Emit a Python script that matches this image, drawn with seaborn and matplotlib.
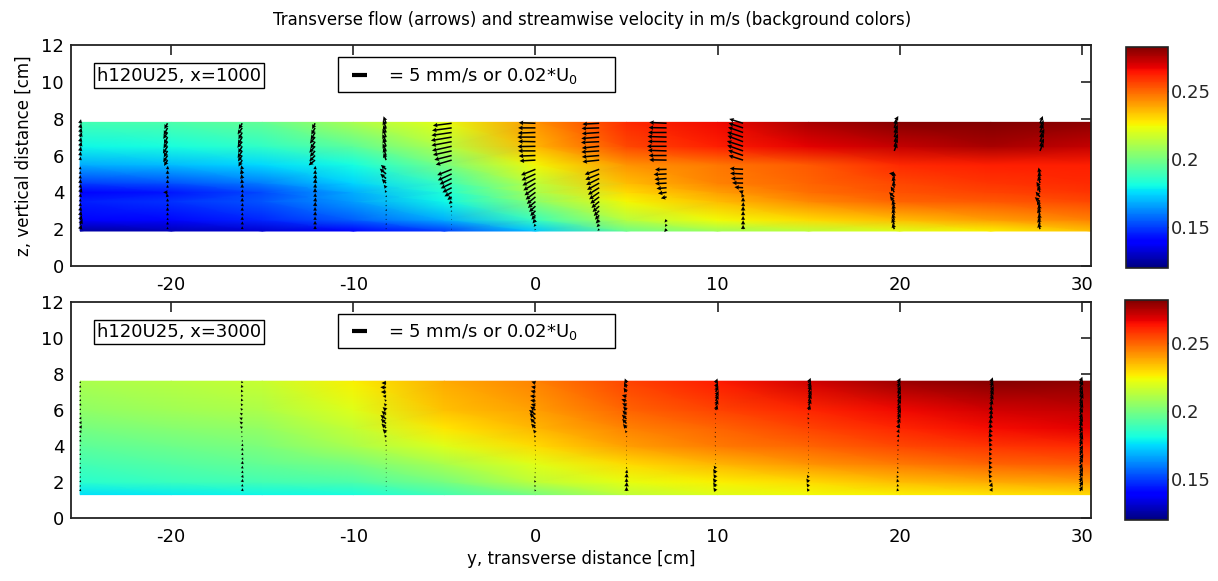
import numpy as np
import seaborn as sns
import matplotlib.pyplot as plt

n = np.nan

# ---------------- background: streamwise velocity (m/s) ----------------
field_y = [-25.0, -20.0, -15.0, -10.0, -5.0, 0.0, 5.0, 10.0, 15.0, 20.0, 25.0, 30.5]

top_field_z = [1.9, 2.5, 3.5, 4.0, 4.5, 5.5, 6.5, 7.8]
top_field_u = [
    # y=-25  -20    -15    -10    -5     0      5      10     15     20     25     30.5
    [0.125, 0.128, 0.132, 0.140, 0.150, 0.172, 0.198, 0.208, 0.214, 0.220, 0.226, 0.234],  # z=1.9
    [0.138, 0.141, 0.146, 0.155, 0.168, 0.188, 0.213, 0.224, 0.230, 0.235, 0.240, 0.245],  # z=2.5
    [0.145, 0.148, 0.154, 0.165, 0.180, 0.204, 0.225, 0.235, 0.244, 0.250, 0.252, 0.255],  # z=3.5
    [0.140, 0.144, 0.152, 0.168, 0.183, 0.210, 0.230, 0.240, 0.248, 0.253, 0.256, 0.258],  # z=4.0
    [0.150, 0.153, 0.160, 0.174, 0.188, 0.214, 0.235, 0.245, 0.250, 0.255, 0.258, 0.260],  # z=4.5
    [0.168, 0.170, 0.175, 0.181, 0.200, 0.225, 0.242, 0.247, 0.252, 0.260, 0.262, 0.262],  # z=5.5
    [0.180, 0.182, 0.186, 0.195, 0.212, 0.236, 0.255, 0.262, 0.268, 0.272, 0.276, 0.272],  # z=6.5
    [0.190, 0.192, 0.196, 0.210, 0.222, 0.242, 0.260, 0.266, 0.276, 0.281, 0.283, 0.280],  # z=7.8
]

bot_field_z = [1.3, 2.0, 3.0, 4.0, 5.0, 6.0, 7.6]
bot_field_u = [
    [0.176, 0.178, 0.180, 0.182, 0.190, 0.200, 0.214, 0.220, 0.224, 0.226, 0.228, 0.230],  # z=1.3
    [0.185, 0.188, 0.190, 0.192, 0.200, 0.214, 0.222, 0.226, 0.230, 0.235, 0.238, 0.240],  # z=2.0
    [0.190, 0.193, 0.196, 0.200, 0.210, 0.221, 0.230, 0.236, 0.242, 0.246, 0.250, 0.252],  # z=3.0
    [0.195, 0.198, 0.201, 0.210, 0.220, 0.230, 0.240, 0.246, 0.250, 0.255, 0.258, 0.260],  # z=4.0
    [0.200, 0.203, 0.206, 0.215, 0.228, 0.236, 0.245, 0.250, 0.256, 0.261, 0.265, 0.268],  # z=5.0
    [0.205, 0.208, 0.211, 0.220, 0.234, 0.240, 0.250, 0.256, 0.261, 0.266, 0.270, 0.272],  # z=6.0
    [0.210, 0.213, 0.216, 0.226, 0.238, 0.245, 0.256, 0.263, 0.270, 0.278, 0.281, 0.280],  # z=7.6
]

# ---------------- arrows: transverse flow (mm/s) ----------------
top_arrow_z = [2.0, 2.25, 2.5, 2.75, 3.0, 3.25, 3.5, 3.75, 4.0, 4.25, 4.5, 4.75,
               5.0, 5.25, 5.5, 5.75, 6.0, 6.25, 6.5, 6.75, 7.0, 7.25, 7.5, 7.75]
top_cols = [-25.0, -20.2, -16.1, -12.1, -8.2, -4.6, 0.0, 3.5, 7.2, 11.4, 19.7, 27.7]
top_v = [
    [0.5, 0.8, 0.6, 0.4, 0.3, 0.2, 0.2, 0.3, 0.6, 0.3, 0.2, 0.1, 0.1, 0.1, n, 0.2, 0.2, 0.3, 0.5, 0.4, 0.6, 0.5, 0.4, 0.3],
    [0, 0, 0.1, 0, 0, 0.1, 0, -0.3, -1.5, 0, 0, 0.1, 0, 0.1, n, -1.2, -1.5, -1.3, -1.6, -1.4, -1.2, -1.5, -1.3, -1.1],
    [0, 0.1, 0, 0.1, 0, 0.2, 0, 0.1, 0.2, 0, -0.2, -0.3, -0.4, -0.3, n, -1.3, -1.5, -1.6, -1.4, -1.7, -1.5, -1.3, -1.6, -1.2],
    [0, 0, 0, 0.1, 0, 0.1, 0.2, 0.1, 0, 0.1, 0.2, 0.2, 0.1, 0.1, n, -2.2, -2.0, -1.8, -2.0, -1.6, -1.8, -1.5, -1.3, -1.0],
    [0, 0.1, 0, 0, 0.1, 0, 0, 0.1, -0.4, -0.8, -1.5, -2.0, -2.2, -1.8, n, -0.9, -1.0, -1.2, -1.1, -1.3, -1.2, -1.0, -1.1, -0.9],
    [0, 0, 0, 0, -0.3, -0.5, -1.0, -1.5, -2.5, -3.2, -3.8, -4.2, -4.8, -5.0, n, -5.5, -6.0, -6.5, -6.8, -7.0, -7.2, -7.0, -6.8, -6.5],
    [-0.3, -0.6, -1.0, -1.4, -1.8, -2.2, -2.6, -3.0, -3.4, -3.8, -4.2, -4.5, -4.8, -5.0, n, -5.5, -5.8, -6.0, -6.2, -6.0, -6.3, -6.1, -6.0, -5.8],
    [-0.6, -0.9, -1.2, -1.5, -1.9, -2.3, -2.7, -3.1, -3.5, -3.9, -4.2, -4.5, -4.8, -5.0, n, -5.8, -6.0, -6.2, -6.0, -6.3, -6.2, -6.0, -6.1, -5.8],
    [-0.8, -0.6, -0.7, n, n, n, n, -2.0, -3.0, -3.5, -4.0, -4.2, -4.5, -4.0, n, -6.0, -6.2, -6.5, -6.8, -6.5, -6.6, -6.4, -6.2, -6.0],
    [0, 0, 0, 0, 0, 0.1, 0, -0.5, -1.5, -3.0, -3.8, -4.2, -4.5, -4.6, n, -5.0, -5.2, -5.5, -5.6, -5.4, -5.5, -5.2, -5.0, -4.8],
    [-0.6, -0.8, -0.7, -0.6, -0.5, -0.7, -1.5, -1.8, -1.2, -0.4, -0.5, -0.3, -1.8, n, n, n, n, 1.0, 1.2, 1.3, 1.1, 1.2, 1.0, 1.4],
    [-0.5, -0.6, -0.4, -0.7, -0.5, -1.0, -1.8, -1.5, -0.8, -1.2, -0.6, -0.4, -0.5, n, n, n, n, 1.2, 1.4, 1.3, 1.5, 1.2, 1.3, 1.0],
]
top_w = [
    [1.5, 1.8, 1.6, 1.5, 1.4, 1.2, 1.0, 1.2, 1.5, 1.3, 1.4, 1.2, 1.0, 1.0, n, 1.2, 1.4, 1.5, 1.6, 1.5, 1.7, 1.6, 1.5, 1.4],
    [0.8, 1.0, 0.8, 1.0, 1.2, 1.0, 1.1, 1.2, 0, 1.0, 1.2, 1.1, 1.3, 1.2, n, -2.0, -2.3, -2.2, -2.5, -2.3, -2.4, -2.2, -2.5, -2.0],
    [1.0, 1.1, 1.2, 1.0, 1.2, 1.1, 1.3, 1.2, 1.0, 1.3, 1.4, 1.5, 1.6, 1.4, n, -2.2, -2.0, -2.4, -2.3, -2.1, -2.5, -2.3, -2.2, -2.0],
    [1.2, 1.3, 1.2, 1.4, 1.3, 1.5, 1.4, 1.3, 1.5, 1.4, 1.6, 1.5, 1.4, 1.2, n, -1.8, -2.0, -2.0, -2.2, -2.4, -2.2, -2.5, -2.3, -2.0],
    [0.4, 0.5, 0.4, 0.5, 0.6, 0.5, 0.5, 0.6, 0.8, 1.0, 1.4, 1.6, 1.8, 1.5, n, 2.4, 2.6, 2.5, 2.7, 2.6, 2.8, 2.5, 2.6, 2.4],
    [0.2, 0.2, 0.3, 0.3, -0.4, -0.6, -0.8, -1.0, -1.4, -1.6, -1.8, -2.0, -2.2, -2.0, n, -1.6, -1.5, -1.4, -1.5, -1.3, -1.2, -1.0, -0.9, -0.8],
    [-0.4, -0.8, -1.2, -1.5, -1.8, -2.0, -2.2, -2.4, -2.5, -2.6, -2.5, -2.4, -2.2, -2.0, n, -0.3, -0.2, 0, -0.1, 0.1, 0, -0.2, 0, 0.2],
    [-0.6, -0.9, -1.2, -1.5, -1.8, -2.0, -2.2, -2.3, -2.4, -2.4, -2.3, -2.2, -2.0, -1.8, n, -0.6, -0.5, -0.4, -0.6, -0.3, -0.5, -0.4, -0.2, -0.3],
    [-1.0, -0.8, -0.9, n, n, n, n, -0.5, -0.4, -0.3, -0.2, -0.3, -0.2, -0.1, n, 0.1, 0, 0.2, 0, 0.1, 0.2, 0, 0.1, 0.3],
    [1.5, 1.5, 1.4, 1.5, 1.6, 1.4, 1.5, 1.2, 0.5, 0.2, 0.1, 0, 0.2, 0.3, n, 1.6, 1.8, 1.9, 1.8, 2.0, 1.7, 1.8, 1.6, 1.5],
    [2.0, 2.2, 2.1, 2.3, 2.2, 2.0, 1.8, 1.6, 2.0, 2.2, 2.3, 2.4, 0.2, n, n, n, n, 2.6, 2.8, 2.7, 2.9, 2.6, 2.8, 2.5],
    [2.1, 2.3, 2.2, 2.4, 2.2, 2.0, 1.5, 1.8, 2.2, 2.0, 2.4, 2.3, 2.2, n, n, n, n, 2.8, 2.7, 3.0, 2.8, 2.9, 2.6, 2.5],
]

bot_arrow_z = [1.5, 1.75, 2.0, 2.25, 2.5, 2.75, 3.0, 3.25, 3.5, 3.75, 4.0, 4.25, 4.5,
               4.75, 5.0, 5.25, 5.5, 5.75, 6.0, 6.25, 6.5, 6.75, 7.0, 7.25, 7.5]
bot_cols = [-25.0, -16.1, -8.2, 0.0, 5.0, 9.9, 15.0, 19.9, 25.0, 29.9]
bot_v = [
    [0.2, 0.1, 0.3, 0.2, 0.1, 0.2, 0.1, 0.3, 0.2, 0.1, 0.2, 0.3, 0.2, 0.4, 0.6, 0.5, 0.4, 0.3, 0.2, 0.3, 0.2, 0.1, 0.2, 0.1, 0.2],
    [0.2, 0.1, 0.2, 0.3, 0.2, 0.1, 0.2, 0.3, 0.2, 0.1, 0.2, 0.1, -0.3, -0.4, -0.8, -0.9, -1.0, -0.8, -0.6, -0.5, -0.4, -0.3, -0.4, -0.3, -0.2],
    [0.1, 0, 0.1, 0, 0.1, 0, 0.1, 0, 0.1, 0, 0, -0.2, -0.6, -1.2, -1.6, -1.8, -2.0, -1.6, -1.2, -0.8, -0.6, -1.2, -1.8, -2.0, -1.6],
    [-0.3, -0.4, -0.5, -0.4, -0.3, -0.2, -0.1, -0.2, -0.1, -0.2, -0.3, -0.4, -0.5, -0.8, -1.5, -1.8, -2.0, -2.2, -1.8, -1.6, -1.8, -1.9, -1.7, -1.5, -1.4],
    [0, 0.1, 0, 0.1, 0.2, 0.1, 0, 0.1, 0, 0.1, 0, 0.1, 0.2, -0.5, -1.2, -1.5, -1.6, -1.4, -1.2, -1.5, -1.8, -1.6, -1.0, -0.8, -0.6],
    [-0.8, -0.9, -1.0, -0.8, -0.9, -0.7, -0.3, -0.2, -0.3, -0.2, -0.4, -0.3, -0.5, -0.4, -0.3, -0.2, -0.3, -0.4, 0.6, 0.8, 0.9, 1.0, 0.8, 0.7, 0.6],
    [-0.6, -0.7, -0.8, -0.6, -0.3, -0.2, -0.1, -0.2, -0.1, 0, -0.1, -0.2, -0.1, 0, -0.2, -0.3, -0.4, -0.3, 0.5, 0.8, 0.9, 1.0, 0.9, 0.8, 0.7],
    [-0.3, -0.2, -0.3, -0.4, -0.2, -0.1, 0, -0.1, 0, 0.1, 0, 0.2, 0.3, 0.4, 0.6, 0.8, 0.9, 1.0, 0.9, 1.0, 1.1, 0.9, 1.0, 0.8, 0.9],
    [0.6, 0.5, -0.6, -0.7, -0.8, -0.6, -0.7, -0.5, -0.6, -0.4, -0.5, -0.6, -0.5, -0.4, -0.3, -0.2, 0.2, 0.3, 0.2, 0.6, 0.8, 0.9, 1.0, 0.8, 0.7],
    [0.9, 1.0, 0.8, 0.9, 1.0, 0.8, 0.9, 1.1, 0.9, 1.0, 0.8, 1.0, 0.9, 0.8, 0.7, 0.9, 0.8, 0.9, 1.0, 0.9, 1.1, 1.0, 0.9, 1.0, 0.8],
]
bot_w = [
    [0.8, 0.6, 0.7, 0.5, 0.6, 0.7, 0.5, 0.6, 0.7, 0.6, 0.5, 0.8, 0.7, 0.9, 1.0, 0.9, 0.8, 0.7, 0.6, 0.8, 0.7, 0.6, 0.7, 0.8, 0.6],
    [1.0, 0.9, 1.1, 1.0, 0.9, 1.0, 1.1, 0.8, 0.9, 1.0, 0.9, 0.6, 0.4, 0.5, 0.6, 0.7, 0.5, 0.6, 0.7, 0.8, 0.9, 0.8, 0.9, 1.0, 0.8],
    [0.3, 0.3, 0.4, 0.3, 0.3, 0.4, 0.3, 0.4, 0.3, 0.4, 0.5, 0.6, 0.8, 1.2, 1.5, 1.6, 1.4, 1.2, 1.0, 0.8, 0.6, 0.2, 0, 0.1, 0],
    [0.6, 0.5, 0.6, 0.4, 0.3, 0.3, 0.2, 0.3, 0.2, 0.3, 0.3, 0.4, 0.6, 1.0, 1.5, 1.8, 2.0, 1.6, 1.2, 0.5, 0.3, 0.2, 0.4, 0.3, 0.5],
    [1.5, 1.6, 1.4, 1.5, 1.2, 0.6, 0.3, 0.3, 0.2, 0.3, 0.2, 0.3, 0.4, 0.8, 1.4, 1.6, 1.5, 1.4, 1.2, 0.8, 0.6, 0.5, 1.5, 1.8, 1.6],
    [1.2, 1.4, 1.3, 1.2, 1.4, 1.0, 0.3, 0.2, 0.3, 0.2, 0.1, 0.2, 0.1, 0.2, 0.3, 0.2, 0.3, 0.4, 1.8, 2.0, 2.2, 2.0, 2.1, 1.8, 1.6],
    [1.0, 1.1, 1.2, 0.9, 0.4, 0.3, 0.2, 0.3, 0.2, 0.3, 0.2, 0.3, 0.2, 0.3, 0.4, 0.5, 0.6, 0.5, 1.8, 2.2, 2.4, 2.2, 2.3, 2.0, 1.8],
    [1.0, 0.9, 1.1, 0.8, 0.7, 0.6, 0.4, 0.5, 0.4, 0.5, 0.6, 0.8, 1.0, 1.2, 1.6, 1.9, 2.1, 2.2, 2.0, 2.3, 2.2, 2.4, 2.1, 2.0, 1.8],
    [1.2, 1.4, 1.0, 1.2, 1.1, 1.3, 1.2, 1.0, 1.1, 1.2, 1.3, 1.4, 1.6, 1.5, 1.7, 1.8, 1.9, 1.8, 1.7, 2.0, 2.2, 2.3, 2.1, 2.2, 2.0],
    [1.8, 2.0, 1.9, 2.1, 2.0, 1.8, 2.2, 2.0, 2.1, 1.9, 2.2, 2.3, 2.0, 2.1, 2.4, 2.2, 2.0, 2.3, 2.4, 2.2, 2.5, 2.3, 2.1, 2.4, 2.2],
]

panel_labels = ["h120U25, x=1000", "h120U25, x=3000"]
key_label = "= 5 mm/s or 0.02*U$_0$"
key_speed = 5.0  # mm/s
title = "Transverse flow (arrows) and streamwise velocity in m/s (background colors)"
cbar_ticks = [0.15, 0.2, 0.25]
vmin, vmax = 0.12, 0.282
arrow_scale = 6.3  # mm/s per cm of arrow length

sns.set_theme(style="white")
plt.rcParams['font.family'] = ['DejaVu Sans']
plt.rcParams['text.color'] = 'black'
plt.rcParams['axes.labelcolor'] = 'black'
plt.rcParams['axes.edgecolor'] = '#222222'
plt.rcParams['axes.unicode_minus'] = False
plt.rcParams['mathtext.fontset'] = 'dejavusans'

fig = plt.figure(figsize=(12.18, 5.81), dpi=100)
ax1 = fig.add_axes([0.0583, 0.5422, 0.8374, 0.3803])
ax2 = fig.add_axes([0.0583, 0.1084, 0.8374, 0.3718])
cax1 = fig.add_axes([0.9245, 0.5387, 0.0345, 0.3804])
cax2 = fig.add_axes([0.9237, 0.1050, 0.0353, 0.3787])

panels = [
    (ax1, cax1, top_field_z, top_field_u, top_arrow_z, top_cols, top_v, top_w, panel_labels[0]),
    (ax2, cax2, bot_field_z, bot_field_u, bot_arrow_z, bot_cols, bot_v, bot_w, panel_labels[1]),
]

for ax, cax, fz, fu, az, cols, vv, ww, label in panels:
    mesh = ax.pcolormesh(field_y, fz, np.array(fu), shading='gouraud',
                         cmap='jet', vmin=vmin, vmax=vmax, rasterized=True)
    Y, Z = np.meshgrid(cols, az, indexing='ij')
    ax.quiver(Y, Z, np.array(vv), np.array(ww), angles='xy', scale_units='xy',
              scale=arrow_scale, width=0.0015, headwidth=3, headlength=3,
              headaxislength=2.7, minlength=0.5, color='black', zorder=3)

    ax.set_xlim(-25.5, 30.5)
    ax.set_ylim(0, 12)
    ax.set_xticks([-20, -10, 0, 10, 20, 30])
    ax.set_yticks([0, 2, 4, 6, 8, 10, 12])
    ax.tick_params(direction='in', length=7, width=1.2, top=True, right=True,
                   labelsize=13, colors='#222222', labelcolor='black')
    ax.tick_params(axis='x', pad=7)
    ax.tick_params(axis='y', pad=5)
    for s in ax.spines.values():
        s.set_linewidth(1.3)

    # run label box
    ax.text(0.0255, 0.862, label, transform=ax.transAxes, fontsize=13, va='center',
            ha='left', bbox=dict(boxstyle='square,pad=0.18', fc='white', ec='black', lw=1))
    # arrow scale box: a 5 mm/s bar drawn at the quiver scale
    ax.add_patch(plt.Rectangle((0.262, 0.787), 0.271, 0.158, transform=ax.transAxes,
                               fc='white', ec='black', lw=1, zorder=4))
    key_x0 = -10.05
    ax.plot([key_x0, key_x0 + key_speed / arrow_scale], [0.866, 0.866],
            transform=ax.get_xaxis_transform(), color='black', lw=3,
            solid_capstyle='butt', zorder=5)
    ax.text(0.311, 0.862, key_label, transform=ax.transAxes, fontsize=13,
            va='center', ha='left', zorder=5)

    cb = fig.colorbar(mesh, cax=cax, ticks=cbar_ticks)
    cb.ax.set_yticklabels(["0.15", "0.2", "0.25"])
    cb.ax.tick_params(direction='in', left=True, right=True, length=4, width=1,
                      labelsize=13, pad=2)
    cb.outline.set_linewidth(1.2)

ax1.set_ylabel("z, vertical distance [cm]", fontsize=12, labelpad=6)
ax2.set_xlabel("y, transverse distance [cm]", fontsize=12, labelpad=3)
fig.text(0.486, 0.966, title, ha='center', va='center', fontsize=12)

fig.savefig("out.png", dpi=100)
